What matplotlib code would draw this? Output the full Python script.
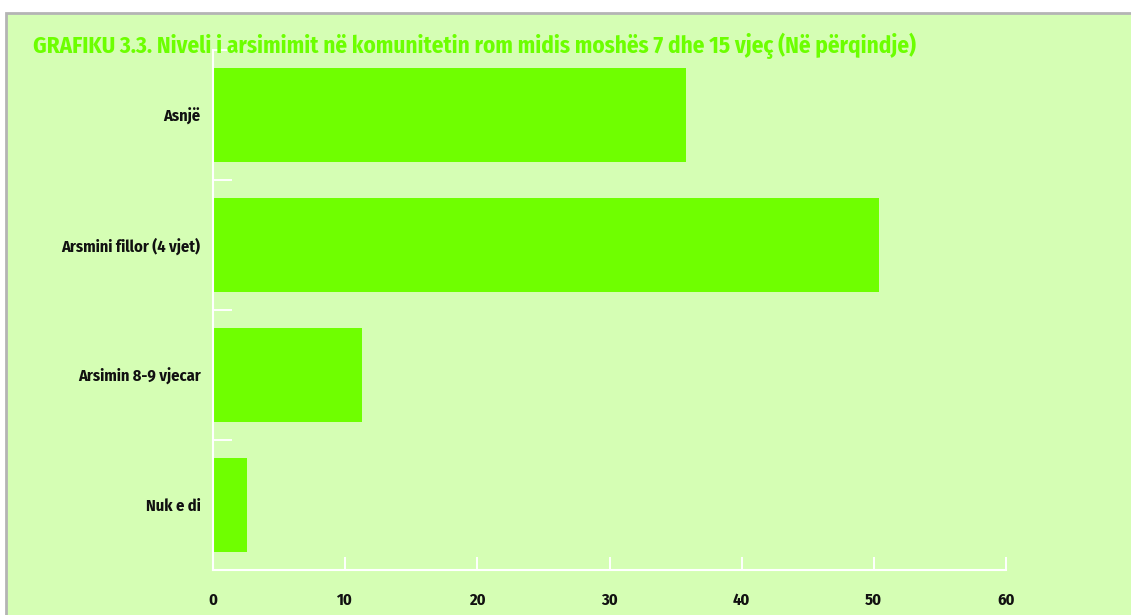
import matplotlib.pyplot as plt
from matplotlib.patches import Rectangle

categories = ["Asnjë", "Arsmini fillor (4 vjet)", "Arsimin 8-9 vjecar", "Nuk e di"]
values = [35.8, 50.4, 11.3, 2.6]
xticks = [0, 10, 20, 30, 40, 50, 60]
title = "GRAFIKU 3.3. Niveli i arsimimit në komunitetin rom midis moshës 7 dhe 15 vjeç (Në përqindje)"

bg = "#d5feb4"
green = "#6fff00"
fonts = ["Fira Sans Condensed", "PT Sans Narrow", "DejaVu Sans"]

W, H = 1131, 615
fig = plt.figure(figsize=(W / 100, H / 100), dpi=100, facecolor="white")
# light green panel with a grey edge on the left and top
fig.patches.append(Rectangle((6 / W, -0.1), 1.2, 1.1 - 13 / H, transform=fig.transFigure,
                             facecolor=bg, edgecolor="#b4b4b4", linewidth=2, zorder=-5))

ax = fig.add_axes([213 / W, 1 - 570 / H, (1006 - 213) / W, (570 - 50) / H])
ax.set_facecolor("none")
ax.set_zorder(2)

pos = list(range(len(categories)))
ax.barh(pos, values, height=0.72, color=green, zorder=2)

ax.set_xlim(0, 60)
ax.set_ylim(len(categories) - 0.5, -0.5)
ax.set_xticks(xticks)
ax.set_xticklabels([str(t) for t in xticks], fontfamily=fonts, fontweight="bold", fontsize=11.8)
ax.set_yticks(pos)
ax.set_yticklabels(categories, fontfamily=fonts, fontweight="bold", fontsize=11.8)
ax.set_yticks([p - 0.5 for p in pos] + [len(categories) - 0.5], minor=True)

ax.tick_params(axis="x", direction="in", length=9.5, width=1.4, color="white", pad=16, labelcolor="#111111")
ax.tick_params(axis="y", which="major", length=0, pad=9, labelcolor="#111111")
ax.tick_params(axis="y", which="minor", direction="in", length=14, width=1.4, color="white")

for s in ["top", "right"]:
    ax.spines[s].set_visible(False)
for s in ["left", "bottom"]:
    ax.spines[s].set_color("white")
    ax.spines[s].set_linewidth(1.5)

fig.text(33 / W, 1 - 46 / H, title, color="#6cff00", fontfamily=fonts, fontweight="bold",
         fontsize=16.6, va="center", ha="left")

fig.savefig("out.png", dpi=100, facecolor=fig.get_facecolor())
